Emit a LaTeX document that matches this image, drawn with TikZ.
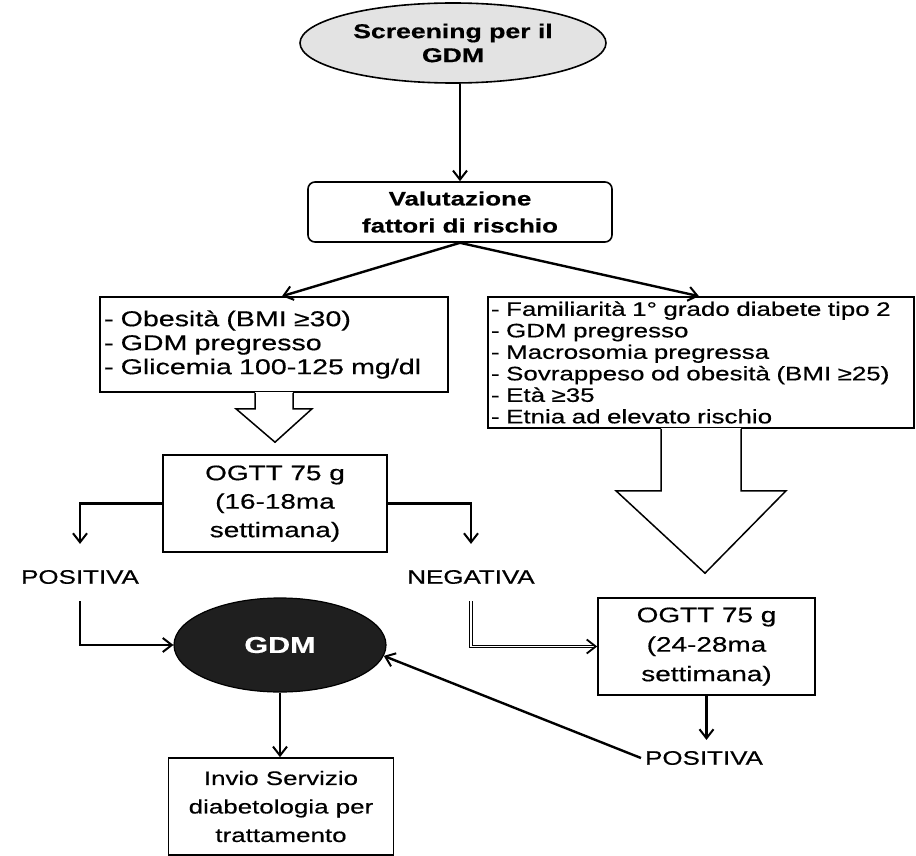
\documentclass[tikz,border=0pt]{standalone}
\usepackage{fontspec}
\setmainfont{Liberation Sans}[FakeStretch=1.33,FakeBold=0.5]
\usetikzlibrary{arrows.meta,shapes.geometric,calc}
\begin{document}
\begin{tikzpicture}[x=1pt,y=-1pt,
  conn/.style={line width=2.4pt,-{Straight Barb[length=9pt,width=14pt,line width=2pt]}},
  dconn/.style={draw=black,line width=1.1pt,double=white,double distance=1.6pt,-{Straight Barb[length=9pt,width=14pt,line width=1.8pt]}},
  box/.style={draw,line width=1.6pt,inner sep=0pt,align=center},
  blk/.style={draw,line width=1.5pt,line join=miter},
  lbl/.style={inner sep=0pt,font=\fontsize{19.5}{24}\selectfont}
]
\useasboundingbox (0,0) rectangle (916,856);

\node[ellipse,draw,line width=1.6pt,fill=gray!22,minimum width=306pt,minimum height=80pt,inner sep=0pt,align=center,
  font=\bfseries\fontsize{20}{24}\selectfont] (screen) at (453,43) {Screening per il\\GDM};

\node[box,rounded corners=7pt,minimum width=304pt,minimum height=60pt,
  font=\bfseries\fontsize{19.5}{27}\selectfont] (val) at (460,212) {Valutazione\\fattori di rischio};

\node[box,minimum width=348pt,minimum height=95pt,align=left,text width=340pt,
  font=\fontsize{21.5}{24}\selectfont] (lb) at (274,344.5)
  {- Obesità (BMI ≥30)\\- GDM pregresso\\- Glicemia 100-125 mg/dl};

\node[box,minimum width=426pt,minimum height=131pt,align=left,text width=420pt,
  font=\fontsize{19.5}{21.5}\selectfont] (rb) at (701,362.5)
  {- Familiarità 1° grado diabete tipo 2\\- GDM pregresso\\- Macrosomia pregressa\\- Sovrappeso od obesità (BMI ≥25)\\- Età ≥35\\- Etnia ad elevato rischio};

\node[box,minimum width=224pt,minimum height=97pt,font=\fontsize{21}{28.5}\selectfont] (ogl) at (275,503.5)
  {OGTT 75 g\\(16-18ma\\settimana)};

\node[box,minimum width=217pt,minimum height=97pt,font=\fontsize{21}{29.5}\selectfont] (ogr) at (706.5,646.5)
  {OGTT 75 g\\(24-28ma\\settimana)};

\node[lbl] (pos1) at (80,577) {POSITIVA};
\node[lbl] (neg) at (471,577) {NEGATIVA};
\node[lbl] (pos2) at (704,758) {POSITIVA};

\node[ellipse,draw,line width=1.2pt,fill=black!88,minimum width=212pt,minimum height=94pt,inner sep=0pt,
  text=white,font=\bfseries\fontsize{23}{26}\selectfont] (gdm) at (280,645) {GDM};

\node[box,minimum width=225pt,minimum height=97pt,font=\fontsize{19.5}{28.5}\selectfont] (bb) at (281,806.5)
  {Invio Servizio\\diabetologia per\\trattamento};

% connectors
\draw[conn] (screen.south -| val.north) -- (val.north);
\draw[conn] (val.south) -- ([xshift=8pt]lb.north);
\draw[conn] (val.south) -- ([xshift=-2pt]rb.north);

% left block arrow
\fill[white] ($(lb.south)+(-19,-1.2)$) rectangle ($(lb.south)+(19,3)$);
\draw[blk] ($(lb.south)+(-19,0)$) -- ++(0,16) -- ++(-19,0) -- ($(ogl.north)+(0,-12)$)
  -- ($(lb.south)+(38,16)$) -- ++(-19,0) -- ++(0,-16);

% right block arrow
\fill[white] ($(rb.south)+(-40,-1.2)$) rectangle ($(rb.south)+(40,3)$);
\draw[blk] ($(rb.south)+(-40,0)$) -- ++(0,62) -- ++(-45,0) -- ($(ogr.north)+(-1.5,-24)$)
  -- ($(rb.south)+(85,62)$) -- ++(-45,0) -- ++(0,-62);

\draw[conn] (ogl.west) -| ([yshift=26pt]pos1.north);
\draw[conn] (ogl.east) -| ([yshift=26pt]neg.north);
\draw[conn] ([yshift=-17pt]pos1.south) |- (gdm.west);
\draw[dconn] ([yshift=-17pt]neg.south) |- (ogr.west);
\draw[conn] (ogr.south) -- ([yshift=11pt]pos2.north -| ogr.south);
\draw[conn] ([xshift=-4pt]pos2.west) -- (gdm.-6);
\draw[conn] (gdm.south) -- (gdm.south |- bb.north);
\end{tikzpicture}
\end{document}
